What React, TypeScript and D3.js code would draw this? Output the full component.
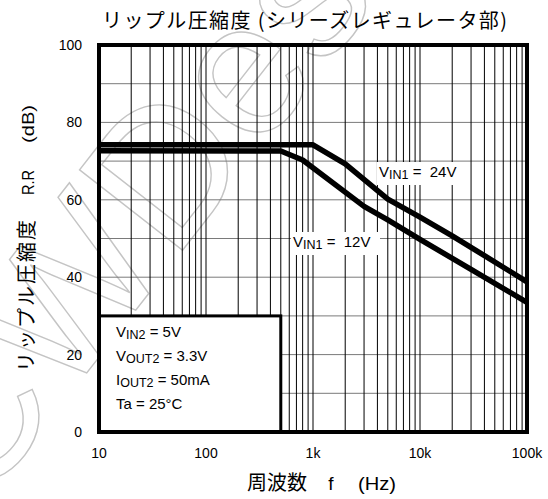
import React from "react";
import * as d3 from "d3";

const W = 548;
const H = 499;

// data
const freq24 = [10, 1000, 2000, 5000, 10000, 20000, 100000];
const rr24 = [74.2, 74.2, 69.3, 60.2, 55.5, 50.7, 38.8];
const freq12 = [10, 500, 800, 3000, 5000, 10000, 30000, 100000];
const rr12 = [72.7, 72.6, 70.3, 58.3, 54.8, 49.8, 42, 33.5];
const xTickVals = [10, 100, 1000, 10000, 100000];
const xTickLabels = ["10", "100", "1k", "10k", "100k"];
const yTickVals = [0, 20, 40, 60, 80, 100];
const yGridVals = [10, 20, 30, 40, 50, 60, 70, 80, 90];
const legendLines = [
  { main: "V", sub: "IN2", rest: " = 5V" },
  { main: "V", sub: "OUT2", rest: " = 3.3V" },
  { main: "I", sub: "OUT2", rest: " = 50mA" },
  { main: "Ta = 25°C", sub: "", rest: "" },
];
const legendBoxFreq = 500;
const legendBoxTop = 30;

const LATIN = "'Liberation Sans', Arial, sans-serif";
const CJK = "'Noto Sans CJK JP', 'Noto Sans', sans-serif";

export default function App() {
  const x = d3.scaleLog().domain([10, 100000]).range([99, 527]);
  const y = d3.scaleLinear().domain([0, 100]).range([432, 45]);

  const minorFreqs: number[] = [];
  for (let dec = 10; dec < 100000; dec *= 10) {
    for (let k = 1; k < 10; k++) minorFreqs.push(dec * k);
  }
  minorFreqs.push(100000);

  const line = d3
    .line<[number, number]>()
    .x((d) => x(d[0]))
    .y((d) => y(d[1]));
  const d24 = line(freq24.map((f, i) => [f, rr24[i]] as [number, number])) || "";
  const d12 = line(freq12.map((f, i) => [f, rr12[i]] as [number, number])) || "";

  const x0 = x(10), x1 = x(100000), y0 = y(0), y1 = y(100);

  return (
    <svg
      width={W}
      height={H}
      style={{ position: "absolute", left: 0, top: 0, background: "#fff" }}
    >
      <rect x={0} y={0} width={W} height={H} fill="#fff" />
      {/* watermark */}
      <text
        transform="translate(-22,512) rotate(-52)"
        fontFamily={LATIN}
        fontSize={190}
        fill="none"
        stroke="#c4c4c4"
        strokeWidth={1.4}
      >
        CWDes
      </text>

      {/* grid */}
      {yGridVals.map((v) => (
        <line key={"h" + v} x1={x0} x2={x1} y1={y(v)} y2={y(v)} stroke="#7a7a7a" strokeWidth={1} />
      ))}
      {minorFreqs.map((f) => (
        <line key={"v" + f} x1={x(f)} x2={x(f)} y1={y1} y2={y0} stroke="#000" strokeWidth={1} />
      ))}

      {/* label backgrounds */}
      <rect x={377} y={162} width={89} height={23} fill="#fff" />
      <rect x={291} y={232} width={89} height={23} fill="#fff" />

      {/* curves */}
      <path d={d24} fill="none" stroke="#000" strokeWidth={5.5} strokeLinejoin="round" />
      <path d={d12} fill="none" stroke="#000" strokeWidth={5.5} strokeLinejoin="round" />

      {/* curve labels */}
      <text x={379} y={177} fontFamily={LATIN} fontSize={15} style={{ whiteSpace: "pre" }}>
        V<tspan fontSize={12.5} dy={2}>IN1</tspan>
        <tspan dy={-2}>{" =  24V"}</tspan>
      </text>
      <text x={293} y={247} fontFamily={LATIN} fontSize={15} style={{ whiteSpace: "pre" }}>
        V<tspan fontSize={12.5} dy={2}>IN1</tspan>
        <tspan dy={-2}>{" =  12V"}</tspan>
      </text>

      {/* legend box */}
      <rect
        x={x0}
        y={y(legendBoxTop)}
        width={x(legendBoxFreq) - x0}
        height={y0 - y(legendBoxTop)}
        fill="#fff"
        stroke="#000"
        strokeWidth={3}
      />
      {legendLines.map((l, i) => (
        <text key={i} x={116} y={337 + i * 24} fontFamily={LATIN} fontSize={15} style={{ whiteSpace: "pre" }}>
          {l.main}
          {l.sub ? <tspan fontSize={12.5} dy={2}>{l.sub}</tspan> : null}
          {l.rest ? <tspan dy={l.sub ? -2 : 0}>{l.rest}</tspan> : null}
        </text>
      ))}

      {/* frame */}
      <rect x={x0} y={y1} width={x1 - x0} height={y0 - y1} fill="none" stroke="#000" strokeWidth={4} />

      {/* ticks */}
      {xTickVals.map((v, i) => (
        <text key={"xt" + v} x={x(v)} y={458} textAnchor="middle" fontFamily={LATIN} fontSize={14}>
          {xTickLabels[i]}
        </text>
      ))}
      {yTickVals.map((v) => (
        <text key={"yt" + v} x={82} y={y(v)} dy="0.35em" textAnchor="end" fontFamily={LATIN} fontSize={14}>
          {v}
        </text>
      ))}

      {/* title */}
      <text x={102} y={28} fontFamily={CJK} fontSize={20} textLength={405} lengthAdjust="spacing">
        リップル圧縮度 (シリーズレギュレータ部)
      </text>

      {/* x label */}
      <text x={247} y={490} fontFamily={CJK} fontSize={20} textLength={60} lengthAdjust="spacing">
        周波数
      </text>
      <text x={331} y={490} textAnchor="middle" fontFamily={LATIN} fontSize={19}>
        f
      </text>
      <text x={358} y={490} fontFamily={LATIN} fontSize={19} textLength={38} lengthAdjust="spacingAndGlyphs">
        (Hz)
      </text>

      {/* y label */}
      <g transform="translate(34,0) rotate(-90)">
        <text x={-372} y={0} fontFamily={CJK} fontSize={20} textLength={152} lengthAdjust="spacing">
          リップル圧縮度
        </text>
        <text x={-195} y={0} fontFamily={LATIN} fontSize={17} textLength={25} lengthAdjust="spacingAndGlyphs">
          R.R
        </text>
        <text x={-143} y={0} fontFamily={LATIN} fontSize={17} textLength={38} lengthAdjust="spacingAndGlyphs">
          (dB)
        </text>
      </g>
    </svg>
  );
}
